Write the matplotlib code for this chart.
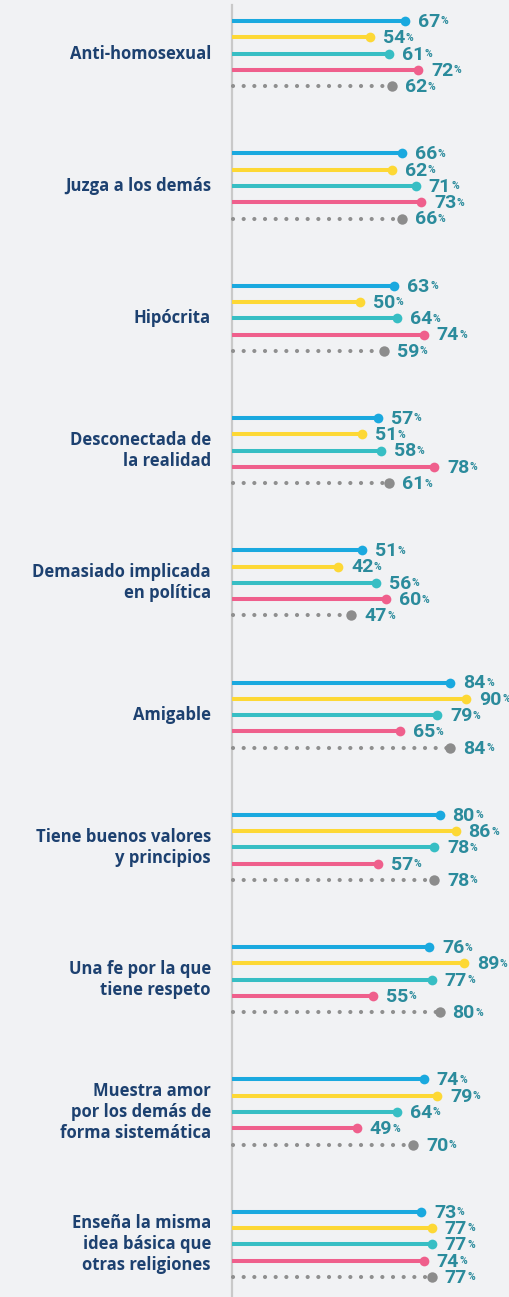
import matplotlib.pyplot as plt

# categories (top to bottom) and the five series shown for each
categories = [
    "Anti-homosexual",
    "Juzga a los demás",
    "Hipócrita",
    "Desconectada de\nla realidad",
    "Demasiado implicada\nen política",
    "Amigable",
    "Tiene buenos valores\ny principios",
    "Una fe por la que\ntiene respeto",
    "Muestra amor\npor los demás de\nforma sistemática",
    "Enseña la misma\nidea básica que\notras religiones",
]
blue = [67, 66, 63, 57, 51, 84, 80, 76, 74, 73]
yellow = [54, 62, 50, 51, 42, 90, 86, 89, 79, 77]
teal = [61, 71, 64, 58, 56, 79, 78, 77, 64, 77]
pink = [72, 73, 74, 78, 60, 65, 57, 55, 49, 74]
gray = [62, 66, 59, 61, 47, 84, 78, 80, 70, 77]

series = [blue, yellow, teal, pink, gray]
colors = ["#1aa9df", "#fdd835", "#37bec4", "#ef5f8c", "#8c8c8c"]

bg = "#f1f2f4"
value_color = "#2b8b9c"
label_color = "#1d4170"

fig = plt.figure(figsize=(5.09, 12.97), dpi=100, facecolor=bg)
ax = fig.add_axes([0, 0, 1, 1])
ax.set_facecolor(bg)

# x in percent, y in pixels from the top
px_per_pct = 2.67
zero_px = 226
ax.set_xlim(-zero_px / px_per_pct, (509 - zero_px) / px_per_pct)
ax.set_ylim(1297, 0)
ax.axis("off")

group_gap = 132.3
row_gap = 16.3
top = 21

axis_x = (232 - zero_px) / px_per_pct
ax.plot([axis_x, axis_x], [5, 1297], color="#c9c9c9", lw=1.6, zorder=1)

for i, cat in enumerate(categories):
    base = top + i * group_gap
    for j, vals in enumerate(series):
        y = base + j * row_gap
        v = vals[i]
        if j == 4:
            ax.plot([axis_x + 0.2, v], [y, y], color="#8f8f8f", lw=3,
                    linestyle=(0, (0.01, 2.55)), dash_capstyle="round", zorder=2)
            ax.plot(v, y, "o", color=colors[j], ms=7.5, mew=0, zorder=3)
        else:
            ax.plot([axis_x, v], [y, y], color=colors[j], lw=2.9,
                    solid_capstyle="butt", zorder=2)
            ax.plot(v, y, "o", color=colors[j], ms=7, mew=0, zorder=3)
        tx = v + 13 / px_per_pct
        t = ax.text(tx, y + 1, str(v), color=value_color, fontsize=14,
                    fontweight="bold", family="Roboto", va="center", ha="left",
                    zorder=4)
        ax.annotate("%", xy=(1, 1), xycoords=t, xytext=(0.3, -2.5),
                    textcoords="offset points", color=value_color, fontsize=7.5,
                    fontweight="bold", family="Roboto", va="top", ha="left")
    ax.text((211 - zero_px) / px_per_pct, base + 2 * row_gap, cat,
            color=label_color, fontsize=12, fontweight="bold",
            family="Open Sans", ha="right", va="center", linespacing=1.2)

fig.savefig("out.png", dpi=100, facecolor=bg)
